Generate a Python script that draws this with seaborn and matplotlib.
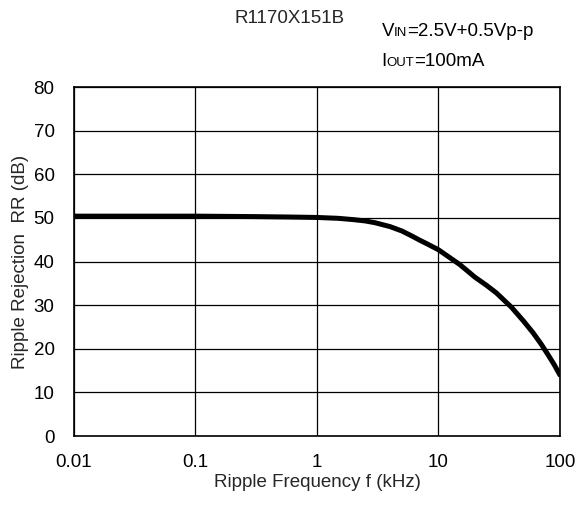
import numpy as np
import pandas as pd
import seaborn as sns
from matplotlib import pyplot as plt
from matplotlib.offsetbox import TextArea, HPacker, AnchoredOffsetbox
from matplotlib.ticker import FixedLocator, NullLocator

# 数据
freq_khz = [0.01, 0.03, 0.1, 0.3, 0.6, 1, 1.5, 2, 2.5, 3, 4, 5, 6, 7, 8, 10,
            15, 20, 25, 30, 40, 50, 60, 70, 80, 90, 100]
rr_db = [50.4, 50.4, 50.4, 50.3, 50.2, 50.1, 49.9, 49.6, 49.3, 48.9, 48.0, 47.0,
         45.9, 44.9, 44.1, 42.7, 39.3, 36.4, 34.5, 32.8, 29.5, 26.4, 23.7, 21.1,
         18.6, 16.3, 14.0]
x_ticks = [0.01, 0.1, 1, 10, 100]
x_ticklabels = ['0.01', '0.1', '1', '10', '100']
y_ticks = [0, 10, 20, 30, 40, 50, 60, 70, 80]

df = pd.DataFrame({'f': freq_khz, 'rr': rr_db})

sns.set_style('white')
plt.rcParams['font.family'] = ['Liberation Sans', 'DejaVu Sans']

fig = plt.figure(figsize=(5.79, 5.08), dpi=100)
ax = fig.add_axes([0.1278, 0.1417, 0.967 - 0.1278, 0.8287 - 0.1417])

sns.lineplot(data=df, x='f', y='rr', color='black', linewidth=3.6, ax=ax)

ax.set_xscale('log')
ax.set_xlim(0.01, 100)
ax.set_ylim(0, 80)
ax.xaxis.set_major_locator(FixedLocator(x_ticks))
ax.xaxis.set_minor_locator(NullLocator())
ax.set_xticklabels(x_ticklabels)
ax.set_yticks(y_ticks)
ax.tick_params(axis='both', labelsize=13.5, length=0, colors='black')
ax.tick_params(axis='x', pad=13)
ax.tick_params(axis='y', pad=14)
ax.grid(True, color='black', linewidth=0.9)
for s in ax.spines.values():
    s.set_color('black')
    s.set_linewidth(1.2)

ax.set_xlabel('Ripple Frequency f (kHz)', fontsize=13.5, labelpad=2)
ax.set_ylabel('Ripple Rejection  RR (dB)', fontsize=13.5, labelpad=3)

# 标题与条件
fig.text(0.5, 0.963, 'R1170X151B', ha='center', va='center', fontsize=13.5)


def sub_text(parts, y):
    boxes = []
    for txt, size in parts:
        boxes.append(TextArea(txt, textprops=dict(fontsize=size, color='black')))
    pack = HPacker(children=boxes, align='baseline', pad=0, sep=0)
    anch = AnchoredOffsetbox(loc='lower left', child=pack, pad=0, frameon=False,
                             bbox_to_anchor=(0.659, y), bbox_transform=fig.transFigure,
                             borderpad=0)
    fig.add_artist(anch)


sub_text([('V', 13.5), ('IN', 9.5), ('=2.5V+0.5Vp-p', 13.5)], 0.921)
sub_text([('I', 13.5), ('OUT', 9.5), ('=100mA', 13.5)], 0.862)

fig.savefig('out.png', dpi=100)
